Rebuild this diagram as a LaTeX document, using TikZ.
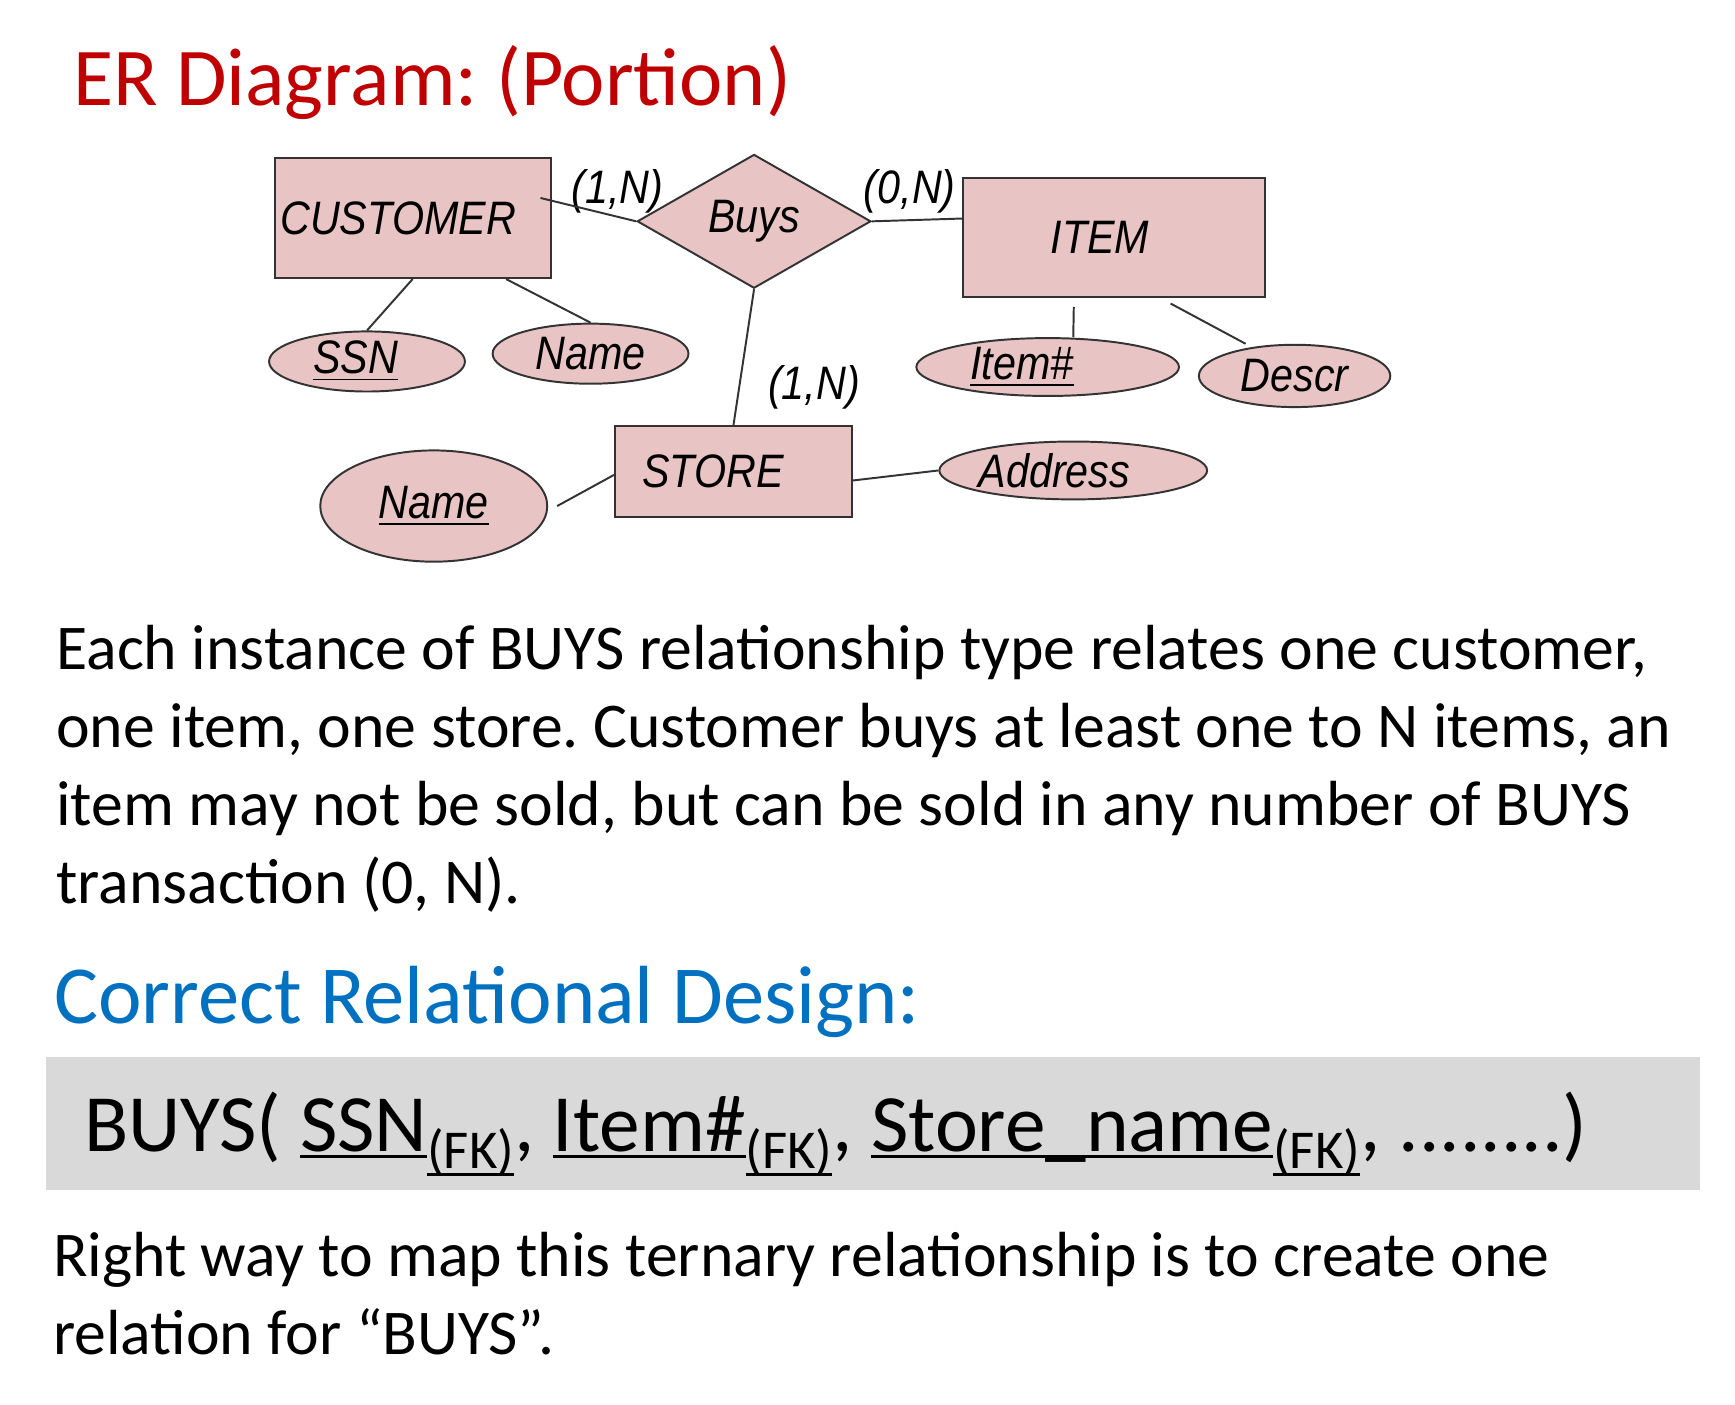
\documentclass[tikz,border=0pt]{standalone}
\usepackage{fontspec}
\usepackage{tikz}
\usetikzlibrary{shapes.geometric}
\setmainfont{Carlito}
\newfontfamily\erfont[FakeStretch=0.88]{Liberation Sans}
\definecolor{titlered}{RGB}{192,0,0}
\definecolor{headblue}{RGB}{0,112,192}
\definecolor{erpink}{RGB}{232,196,196}
\definecolor{boxgray}{RGB}{217,217,217}
\newcommand{\erfnt}{\erfont\itshape\fontsize{12}{14}\selectfont}
\newcommand{\undl}[1]{\setbox0=\hbox{#1}\rlap{\rule[-1.8pt]{\wd0}{0.8pt}}\box0}
\newcommand{\fk}{\raisebox{-4.5pt}{\fontsize{14}{14}\selectfont\undl{(FK)}}}
\frenchspacing

\begin{document}
\begin{tikzpicture}[x=0.01cm, y=-0.01cm,
    entity/.style={draw=black!80, fill=erpink, rectangle, inner sep=0pt, line width=0.5pt, font=\erfnt},
    relship/.style={draw=black!80, fill=erpink, diamond, inner sep=0pt, line width=0.5pt, font=\erfnt},
    attrib/.style={draw=black!80, fill=erpink, ellipse, inner sep=0pt, line width=0.5pt, font=\erfnt},
    card/.style={inner sep=0pt, font=\erfnt},
    link/.style={draw=black!80, line width=0.5pt}]
\useasboundingbox (0,0) rectangle (1560,1263);

% title
\node[anchor=base west, inner sep=0pt, text=titlered, font=\fontsize{21}{25}\selectfont] (title) at (65,95) {ER Diagram: (Portion)};

% ER diagram
\node[entity, minimum width=2.48cm, minimum height=1.08cm] (cust) at (371,196) {CUSTOMER\hspace*{0.26cm}};
\node[relship, minimum width=2.1cm, minimum height=1.06cm] (buys) at (678,199) {Buys};
\node[entity, minimum width=2.71cm, minimum height=1.07cm] (item) at (1001.5,213.5) {ITEM\hspace*{0.25cm}};
\node[entity, minimum width=2.13cm, minimum height=0.82cm] (store) at (659.5,424) {STORE\hspace*{0.37cm}};
\node[attrib, minimum width=1.76cm, minimum height=0.54cm] (ssn) at (330,325) {\underline{SSN}\hspace*{0.2cm}};
\node[attrib, minimum width=1.76cm, minimum height=0.54cm] (cname) at (531,318) {Name};
\node[attrib, minimum width=2.36cm, minimum height=0.52cm] (itemno) at (942,330) {\underline{Item\#}\hspace*{0.46cm}};
\node[attrib, minimum width=1.72cm, minimum height=0.56cm] (descr) at (1164,338) {Descr};
\node[attrib, minimum width=2.04cm, minimum height=1.0cm] (sname) at (390,455) {\underline{Name}};
\node[attrib, minimum width=2.3cm, minimum height=0.52cm] (addr) at (965,423) {Address\hspace*{0.34cm}};

\node[card] (c1) at (555,172) {(1,N)};
\node[card] (c2) at (818,172) {(0,N)};
\node[card] (c3) at (732,348) {(1,N)};

\draw[link] ([xshift=-0.1cm, yshift=0.18cm]cust.east) -- (buys.west);
\draw[link] (buys.east) -- ([yshift=0.17cm]item.west);
\draw[link] (buys.south) -- (store.north);
\draw[link] (cust.south) -- (ssn.north);
\draw[link] ([xshift=0.84cm]cust.south) -- (cname.north);
\draw[link] ([xshift=-0.36cm, yshift=-0.08cm]item.south) -- ([xshift=0.23cm]itemno.north);
\draw[link] ([xshift=0.51cm, yshift=-0.05cm]item.south) -- ([xshift=-0.44cm]descr.north);
\draw[link] ([yshift=-0.08cm]store.east) -- (addr.west);
\draw[link] ([yshift=-0.03cm]store.west) -- ([xshift=0.08cm]sname.east);

% text
\node[anchor=base west, inner sep=0pt, align=left, font=\fontsize{16.3}{19.9}\selectfont] (para) at (50,812)
  {Each instance of BUYS relationship type relates one customer,\\
   one item, one store. Customer buys at least one to N items, an\\
   item may not be sold, but can be sold in any number of BUYS\\
   transaction (0, N).};

\node[anchor=base west, inner sep=0pt, text=headblue, font=\fontsize{21.1}{25}\selectfont] (design) at (48,920) {Correct Relational Design:};

\node[fill=boxgray, inner sep=0pt, minimum width=14.86cm, minimum height=1.2cm] (schema) at (785,1010) {};
\node[anchor=base west, inner sep=0pt, font=\fontsize{20.8}{25}\selectfont] (buysrel) at (75,1035)
  {BUYS( \undl{SSN}\fk, \undl{Item\#}\fk, \undl{Store\_name}\fk, ........)};

\node[anchor=base west, inner sep=0pt, align=left, font=\fontsize{16.3}{19.9}\selectfont] (note) at (47,1218)
  {Right way to map this ternary relationship is to create one\\
   relation for “BUYS”.};
\end{tikzpicture}
\end{document}
